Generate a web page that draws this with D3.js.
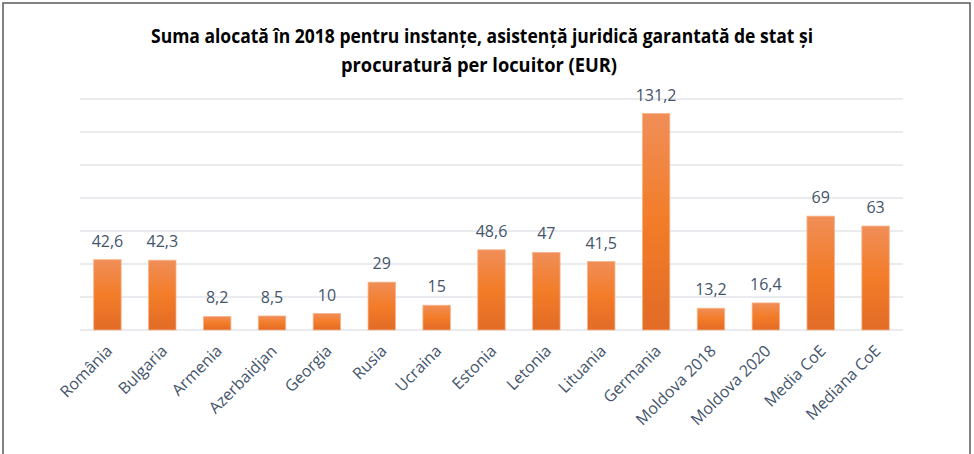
<!DOCTYPE html>
<html>
<head>
<meta charset="utf-8">
<script src="https://cdn.jsdelivr.net/npm/d3@7"></script>
<style>
  body { margin: 0; background: #fff; }
  text { font-family: "Open Sans", "DejaVu Sans", sans-serif; }
</style>
</head>
<body>
<div id="main"></div>
<script>
var ctx = {
    w: 974,
    h: 454,
    left: 80,
    right: 903,
    top: 99,
    bottom: 330,
    labelColor: "#44546A",
    gridColor: "#E2E5EA",
};

// data
var categories = ["România", "Bulgaria", "Armenia", "Azerbaidjan", "Georgia", "Rusia", "Ucraina",
                  "Estonia", "Letonia", "Lituania", "Germania", "Moldova 2018", "Moldova 2020",
                  "Media CoE", "Mediana CoE"];
var values = [42.6, 42.3, 8.2, 8.5, 10, 29, 15, 48.6, 47, 41.5, 131.2, 13.2, 16.4, 69, 63];
var yTicks = [0, 20, 40, 60, 80, 100, 120, 140];
var titleLines = ["Suma alocată în 2018 pentru instanțe, asistență juridică garantată de stat și",
                  "procuratură per locuitor (EUR)"];

var svg = d3.select("#main").append("svg")
    .attr("width", ctx.w)
    .attr("height", ctx.h);

// outer frame
svg.append("rect")
   .attr("x", 3).attr("y", 3)
   .attr("width", 967).attr("height", 470)
   .style("fill", "white")
   .style("stroke", "#595959")
   .style("stroke-width", 1.5);

var defs = svg.append("defs");
var grad = defs.append("linearGradient")
    .attr("id", "barGrad")
    .attr("x1", 0).attr("y1", 0).attr("x2", 0).attr("y2", 1);
grad.append("stop").attr("offset", "0%").attr("stop-color", "#F08E58");
grad.append("stop").attr("offset", "50%").attr("stop-color", "#F37C28");
grad.append("stop").attr("offset", "100%").attr("stop-color", "#E26B27");

var x = d3.scaleBand()
    .domain(categories)
    .range([ctx.left, ctx.right])
    .paddingInner(0.5)
    .paddingOuter(0.25);

var y = d3.scaleLinear()
    .domain([0, 140])
    .range([ctx.bottom, ctx.top]);

// gridlines
svg.append("g")
   .selectAll("line")
   .data(yTicks)
   .enter().append("line")
   .attr("x1", ctx.left)
   .attr("x2", ctx.right)
   .attr("y1", function(d){ return y(d); })
   .attr("y2", function(d){ return y(d); })
   .style("stroke", ctx.gridColor)
   .style("stroke-width", 1.5);

// bars
svg.append("g")
   .selectAll("rect")
   .data(values)
   .enter().append("rect")
   .attr("x", function(d, i){ return x(categories[i]); })
   .attr("y", function(d){ return y(d); })
   .attr("width", x.bandwidth())
   .attr("height", function(d){ return y(0) - y(d); })
   .style("fill", "url(#barGrad)")
   .style("stroke", "#F7B48A")
   .style("stroke-width", 0.8);

// value labels
svg.append("g")
   .selectAll("text")
   .data(values)
   .enter().append("text")
   .attr("x", function(d, i){ return x(categories[i]) + x.bandwidth() / 2; })
   .attr("y", function(d){ return y(d) - 13; })
   .attr("text-anchor", "middle")
   .style("font-size", "16px")
   .style("fill", ctx.labelColor)
   .text(function(d){ return String(d).replace(".", ","); });

// category labels, rotated
svg.append("g")
   .selectAll("text")
   .data(categories)
   .enter().append("text")
   .attr("transform", function(d){
       return "translate(" + (x(d) + x.bandwidth() / 2 + 2) + "," + (ctx.bottom + 18) + ") rotate(-45)";
   })
   .attr("text-anchor", "end")
   .attr("dy", "0.35em")
   .style("font-size", "16px")
   .style("fill", ctx.labelColor)
   .text(function(d){ return d; });

// title, squeezed to the width of the original
var titleWidths = [662, 276];
svg.append("g")
   .selectAll("text")
   .data(titleLines)
   .enter().append("text")
   .attr("x", function(d, i){ return i === 0 ? 482 : 479; })
   .attr("y", function(d, i){ return 43 + i * 29; })
   .attr("text-anchor", "middle")
   .attr("textLength", function(d, i){ return titleWidths[i]; })
   .attr("lengthAdjust", "spacingAndGlyphs")
   .style("font-size", "20px")
   .style("font-weight", "bold")
   .style("fill", "#000")
   .text(function(d){ return d; });
</script>
</body>
</html>
